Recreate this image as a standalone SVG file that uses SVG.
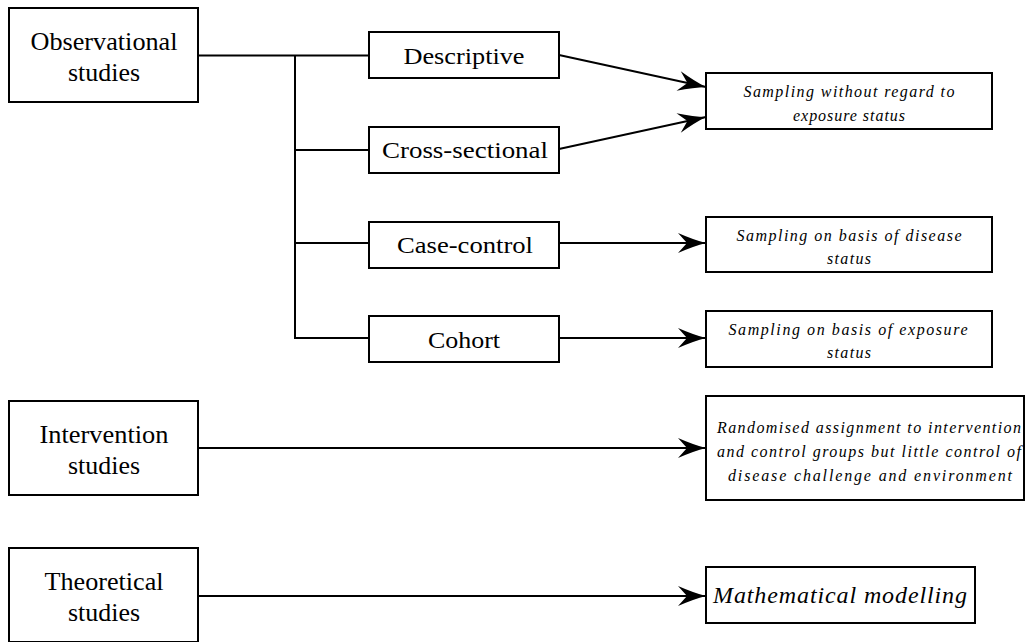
<svg xmlns="http://www.w3.org/2000/svg" width="1025" height="642" viewBox="0 0 1025 642">
  <style>
    .box { fill: #fff; stroke: #000; stroke-width: 2; }
    text { font-family: 'Liberation Serif', Tinos, 'Nimbus Roman', 'Times New Roman', Times, serif; fill: #000; text-anchor: middle; }
    .lbl { font-size: 25px; }
    .mid { font-size: 24px; }
    .note { font-size: 16px; font-style: italic; }
    .big { font-size: 24px; font-style: italic; }
    .wire { fill: none; stroke: #000; stroke-width: 2; }
  </style>
  <defs>
    <marker id="arrow" markerUnits="userSpaceOnUse" markerWidth="30" markerHeight="22" refX="28" refY="10" orient="auto" overflow="visible">
      <path d="M0,0 Q16,7 28,10 Q16,13 0,20 L9,10 Z" fill="#000"/>
    </marker>
  </defs>

  <rect width="1025" height="642" fill="#fff"/>

  <!-- connectors -->
  <g id="connectors">
    <path class="wire" d="M198,55.5 H369" stroke-width="2.5"/>
    <path class="wire" d="M295,55 V339"/>
    <path class="wire" d="M295,150 H369"/>
    <path class="wire" d="M295,243 H369"/>
    <path class="wire" d="M295,338 H369"/>
    <path class="wire" d="M559,55 L706,87" marker-end="url(#arrow)"/>
    <path class="wire" d="M559,149 L706,117" marker-end="url(#arrow)"/>
    <path class="wire" d="M559,243 H706" marker-end="url(#arrow)"/>
    <path class="wire" d="M559,338 H706" marker-end="url(#arrow)"/>
    <path class="wire" d="M198,448 H706" marker-end="url(#arrow)"/>
    <path class="wire" d="M198,596 H706" marker-end="url(#arrow)"/>
  </g>

  <!-- study types -->
  <g id="observational">
    <rect class="box" x="9" y="8" width="189" height="94"/>
    <text class="lbl" x="104" y="50" font-family="Liberation Serif, serif" textLength="147" lengthAdjust="spacingAndGlyphs">Observational</text>
    <text class="lbl" x="104" y="81" font-family="Liberation Serif, serif" textLength="72" lengthAdjust="spacingAndGlyphs">studies</text>
  </g>
  <g id="intervention">
    <rect class="box" x="9" y="401" width="189" height="94"/>
    <text class="lbl" x="104" y="443" textLength="129" lengthAdjust="spacingAndGlyphs">Intervention</text>
    <text class="lbl" x="104" y="474" textLength="72" lengthAdjust="spacingAndGlyphs">studies</text>
  </g>
  <g id="theoretical">
    <rect class="box" x="9" y="548" width="189" height="94"/>
    <text class="lbl" x="104" y="590" textLength="119" lengthAdjust="spacingAndGlyphs">Theoretical</text>
    <text class="lbl" x="104" y="621" textLength="72" lengthAdjust="spacingAndGlyphs">studies</text>
  </g>

  <!-- observational sub-designs -->
  <g id="descriptive">
    <rect class="box" x="369" y="32" width="190" height="46"/>
    <text class="mid" x="464" y="64" textLength="121" lengthAdjust="spacingAndGlyphs">Descriptive</text>
  </g>
  <g id="cross-sectional">
    <rect class="box" x="369" y="127" width="190" height="46"/>
    <text class="mid" x="465" y="158" textLength="166" lengthAdjust="spacingAndGlyphs">Cross-sectional</text>
  </g>
  <g id="case-control">
    <rect class="box" x="369" y="222" width="190" height="46"/>
    <text class="mid" x="465" y="253" textLength="136" lengthAdjust="spacingAndGlyphs">Case-control</text>
  </g>
  <g id="cohort">
    <rect class="box" x="369" y="316" width="190" height="46"/>
    <text class="mid" x="464" y="348" textLength="72" lengthAdjust="spacingAndGlyphs">Cohort</text>
  </g>

  <!-- sampling descriptions -->
  <g id="sampling-regardless">
    <rect class="box" x="706" y="73" width="286" height="56"/>
    <text class="note" x="849" y="97" textLength="211" lengthAdjust="spacing">Sampling without regard to</text>
    <text class="note" x="849" y="121" textLength="112" lengthAdjust="spacing">exposure status</text>
  </g>
  <g id="sampling-disease">
    <rect class="box" x="706" y="217" width="286" height="55"/>
    <text class="note" x="849" y="241" textLength="225" lengthAdjust="spacing">Sampling on basis of disease</text>
    <text class="note" x="849" y="264" textLength="44" lengthAdjust="spacing">status</text>
  </g>
  <g id="sampling-exposure">
    <rect class="box" x="706" y="311" width="286" height="56"/>
    <text class="note" x="848" y="335" textLength="239" lengthAdjust="spacing">Sampling on basis of exposure</text>
    <text class="note" x="849" y="358" textLength="44" lengthAdjust="spacing">status</text>
  </g>
  <g id="randomised">
    <rect class="box" x="706" y="396" width="318" height="104"/>
    <text class="note" x="869" y="433" textLength="304" lengthAdjust="spacing">Randomised assignment to intervention</text>
    <text class="note" x="869" y="457" textLength="304" lengthAdjust="spacing">and control groups but little control of</text>
    <text class="note" x="870" y="481" textLength="284" lengthAdjust="spacing">disease challenge and environment</text>
  </g>
  <g id="modelling">
    <rect class="box" x="706" y="567" width="269" height="56"/>
    <text class="big" x="840" y="603" textLength="254" lengthAdjust="spacing">Mathematical modelling</text>
  </g>
</svg>
